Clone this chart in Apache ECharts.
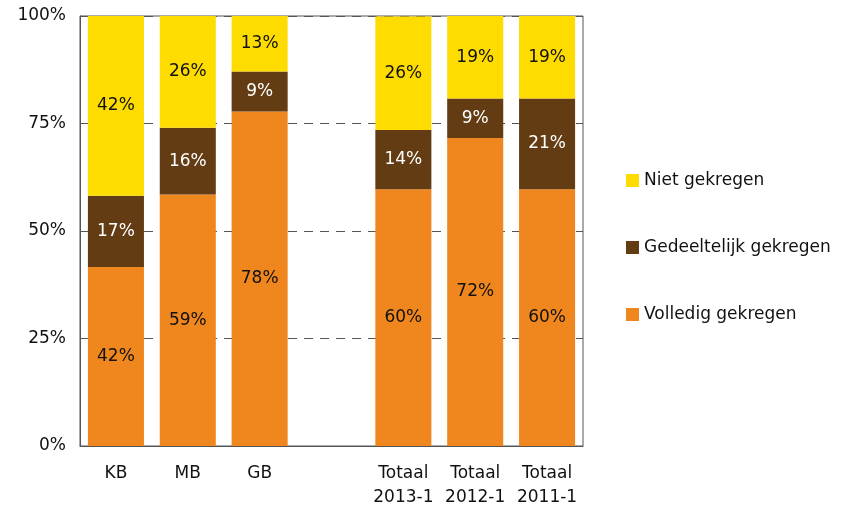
<!DOCTYPE html>
<html>
<head>
<meta charset="utf-8">
<script src="https://cdn.jsdelivr.net/npm/echarts@6/dist/echarts.min.js"></script>
<style>
  html, body { margin: 0; padding: 0; background: #fff; }
  #chart { width: 850px; height: 507px; }
</style>
</head>
<body>
<div id="chart"></div>
<script>
// categorieën (lege plek tussen GB en de totalen)
const categories = ['KB', 'MB', 'GB', '', 'Totaal\n2013-1', 'Totaal\n2012-1', 'Totaal\n2011-1'];

// aandelen in procenten
const volledig = [41.6, 58.5, 77.8, '-', 59.7, 71.6, 59.7];
const gedeeltelijk = [16.6, 15.5, 9.3, '-', 13.8, 9.2, 21.1];
const niet = [41.8, 26.0, 12.9, '-', 26.4, 19.2, 19.2];

const yTicks = [0, 25, 50, 75, 100];

const font = 'DejaVu Sans, Verdana, sans-serif';

const chart = echarts.init(document.getElementById('chart'), null, { renderer: 'canvas' });

function makeSeries(name, data, color, textColor) {
  return {
    name: name,
    type: 'bar',
    stack: 'totaal',
    data: data,
    barWidth: '78%',
    itemStyle: { color: color },
    label: {
      show: true,
      position: 'inside',
      color: textColor,
      fontFamily: font,
      fontSize: 17,
      formatter: function (p) {
        return Math.round(p.value) + '%';
      }
    }
  };
}

const option = {
  animation: false,
  grid: {
    left: 80,
    right: 267,
    top: 16,
    bottom: 61,
    outerBoundsMode: 'none',
    show: true,
    borderColor: '#555',
    borderWidth: 1
  },
  legend: {
    orient: 'vertical',
    left: 621,
    top: 167,
    itemWidth: 13,
    itemHeight: 13,
    itemGap: 50,
    icon: 'rect',
    data: ['Niet gekregen', 'Gedeeltelijk gekregen', 'Volledig gekregen'],
    textStyle: { fontFamily: font, fontSize: 17, color: '#111' }
  },
  xAxis: {
    type: 'category',
    data: categories,
    axisLine: { lineStyle: { color: '#555' } },
    axisTick: { show: false },
    axisLabel: {
      fontFamily: font,
      fontSize: 17,
      color: '#111',
      margin: 16,
      lineHeight: 24,
      interval: 0
    }
  },
  yAxis: {
    type: 'value',
    min: yTicks[0],
    max: yTicks[yTicks.length - 1],
    interval: 25,
    axisLine: { show: true, lineStyle: { color: '#555' } },
    axisTick: { show: false },
    axisLabel: {
      fontFamily: font,
      fontSize: 17,
      color: '#111',
      margin: 14,
      formatter: '{value}%'
    },
    splitLine: {
      lineStyle: { color: '#555', type: [9, 7] }
    }
  },
  series: [
    makeSeries('Volledig gekregen', volledig, '#F0871E', '#111'),
    makeSeries('Gedeeltelijk gekregen', gedeeltelijk, '#643C14', '#fff'),
    makeSeries('Niet gekregen', niet, '#FFDC00', '#111')
  ]
};

chart.setOption(option);
</script>
</body>
</html>
